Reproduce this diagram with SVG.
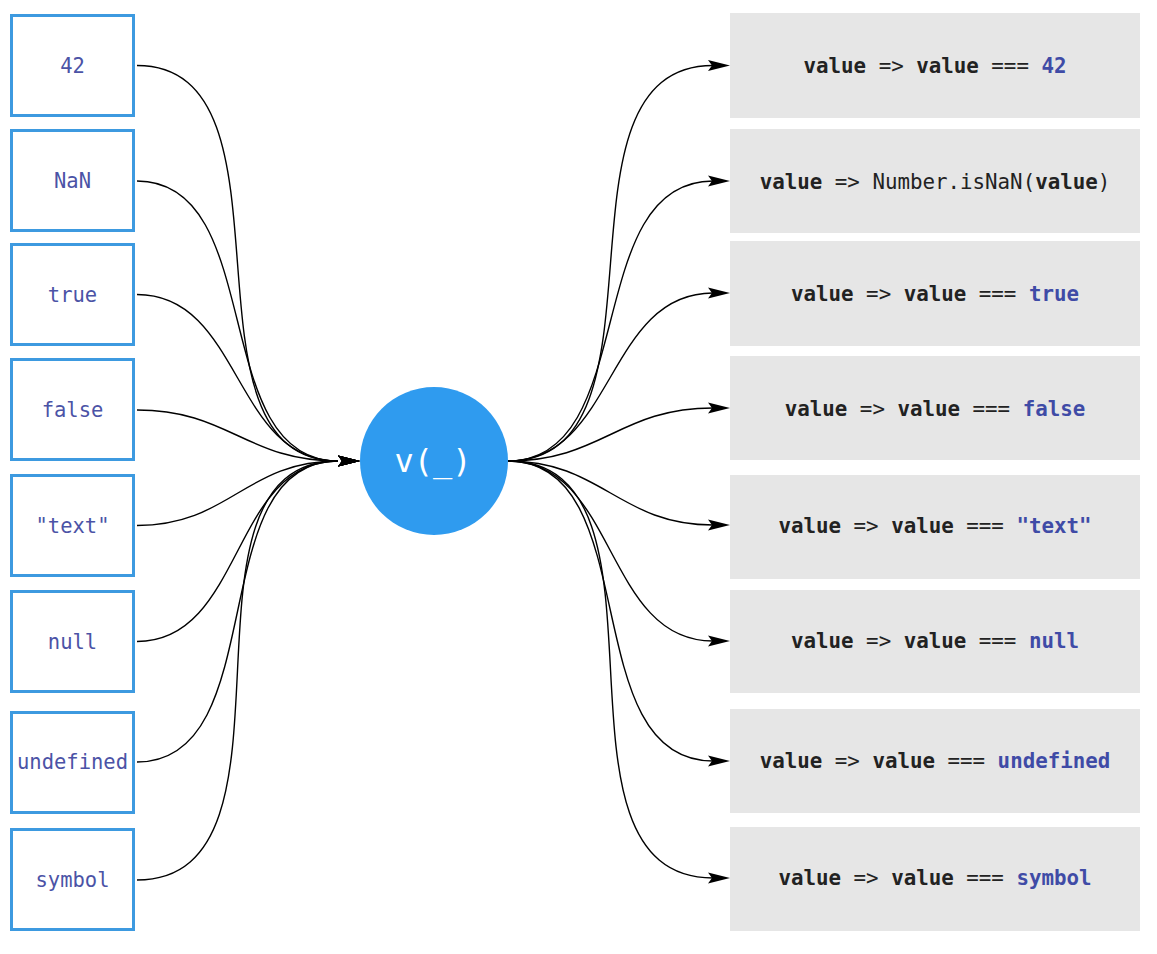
<svg xmlns="http://www.w3.org/2000/svg" width="1157" height="954" viewBox="0 0 1157 954">
<style>
.in rect{fill:#fff;stroke:#3d9ae0;stroke-width:3}
.in text{font-family:"DejaVu Sans Mono","Liberation Mono",monospace;font-size:20.5px;fill:#4b53a6;text-anchor:middle}
.out rect{fill:#e6e6e6}
.out text{font-family:"DejaVu Sans Mono","Liberation Mono",monospace;font-size:20.8px;fill:#222;text-anchor:middle}
.b{font-weight:bold}
.lit{font-weight:bold;fill:#3f4ba6}
.links path{fill:none;stroke:#000;stroke-width:1.4}
.links .l{marker-end:url(#arrL)}
.links .r{marker-end:url(#arrR)}
</style>
<defs>
<marker id="arrL" markerUnits="userSpaceOnUse" markerWidth="24" markerHeight="14" viewBox="0 -7 24 14" refX="0" refY="0" orient="auto">
<path d="M0,-5.5 L22,0 L0,5.5 L4,0 Z" fill="#000"/>
</marker>
<marker id="arrR" markerUnits="userSpaceOnUse" markerWidth="24" markerHeight="14" viewBox="0 -7 24 14" refX="5" refY="0" orient="auto">
<path d="M0,-5.5 L22,0 L0,5.5 L4,0 Z" fill="#000"/>
</marker>
</defs>
<rect width="1157" height="954" fill="#fff"/>
<g class="links">
<path class="l" d="M137,65.5 C308,65.5 167,461 338,461"/>
<path class="l" d="M137,181 C268,181 207,461 338,461"/>
<path class="l" d="M137,294.5 C242,294.5 233,461 338,461"/>
<path class="l" d="M137,410 C229,410 246,461 338,461"/>
<path class="l" d="M137,525.5 C230,525.5 245,461 338,461"/>
<path class="l" d="M137,641.5 C244,641.5 231,461 338,461"/>
<path class="l" d="M137,762 C274,762 201,461 338,461"/>
<path class="l" d="M137,880 C318,880 157,461 338,461"/>
<path class="r" d="M508,461 C682,461 539,65.5 713,65.5"/>
<path class="r" d="M508,461 C641,461 580,181 713,181"/>
<path class="r" d="M508,461 C615,461 606,293 713,293"/>
<path class="r" d="M508,461 C602,461 619,408 713,408"/>
<path class="r" d="M508,461 C602,461 619,525 713,525"/>
<path class="r" d="M508,461 C617,461 604,641 713,641"/>
<path class="r" d="M508,461 C647,461 574,761 713,761"/>
<path class="r" d="M508,461 C691,461 530,878 713,878"/>
</g>
<g id="in-42" class="in"><rect x="11.5" y="15.5" width="122" height="100"/><text x="72.5" y="72.5">42</text></g>
<g id="in-nan" class="in"><rect x="11.5" y="130.5" width="122" height="100"/><text x="72.5" y="188">NaN</text></g>
<g id="in-true" class="in"><rect x="11.5" y="244.5" width="122" height="100"/><text x="72.5" y="301.5">true</text></g>
<g id="in-false" class="in"><rect x="11.5" y="359.5" width="122" height="100"/><text x="72.5" y="416.5">false</text></g>
<g id="in-text" class="in"><rect x="11.5" y="475.5" width="122" height="100"/><text x="72.5" y="532.5">"text"</text></g>
<g id="in-null" class="in"><rect x="11.5" y="591.5" width="122" height="100"/><text x="72.5" y="648.5">null</text></g>
<g id="in-undefined" class="in"><rect x="11.5" y="712.5" width="122" height="100"/><text x="72.5" y="769">undefined</text></g>
<g id="in-symbol" class="in"><rect x="11.5" y="829.5" width="122" height="100"/><text x="72.5" y="887">symbol</text></g>
<g id="center"><circle cx="434" cy="461" r="74" fill="#2f9bef"/><text x="433" y="472" font-family="DejaVu Sans Mono,Liberation Mono,monospace" font-size="32" fill="#fff" text-anchor="middle">v(_)</text></g>
<g id="out-42" class="out"><rect x="730" y="13" width="410" height="105"/><text x="935" y="72.5"><tspan class="b">value</tspan> =&gt; <tspan class="b">value</tspan> === <tspan class="lit">42</tspan></text></g>
<g id="out-nan" class="out"><rect x="730" y="129" width="410" height="104"/><text x="935" y="188.5"><tspan class="b">value</tspan> =&gt; Number.isNaN(<tspan class="b">value</tspan>)</text></g>
<g id="out-true" class="out"><rect x="730" y="241" width="410" height="105"/><text x="935" y="300.5"><tspan class="b">value</tspan> =&gt; <tspan class="b">value</tspan> === <tspan class="lit">true</tspan></text></g>
<g id="out-false" class="out"><rect x="730" y="356" width="410" height="104"/><text x="935" y="415.5"><tspan class="b">value</tspan> =&gt; <tspan class="b">value</tspan> === <tspan class="lit">false</tspan></text></g>
<g id="out-text" class="out"><rect x="730" y="475" width="410" height="104"/><text x="935" y="532.5"><tspan class="b">value</tspan> =&gt; <tspan class="b">value</tspan> === <tspan class="lit">"text"</tspan></text></g>
<g id="out-null" class="out"><rect x="730" y="590" width="410" height="103"/><text x="935" y="648"><tspan class="b">value</tspan> =&gt; <tspan class="b">value</tspan> === <tspan class="lit">null</tspan></text></g>
<g id="out-undefined" class="out"><rect x="730" y="709" width="410" height="104"/><text x="935" y="768"><tspan class="b">value</tspan> =&gt; <tspan class="b">value</tspan> === <tspan class="lit">undefined</tspan></text></g>
<g id="out-symbol" class="out"><rect x="730" y="827" width="410" height="104"/><text x="935" y="885"><tspan class="b">value</tspan> =&gt; <tspan class="b">value</tspan> === <tspan class="lit">symbol</tspan></text></g>
</svg>
